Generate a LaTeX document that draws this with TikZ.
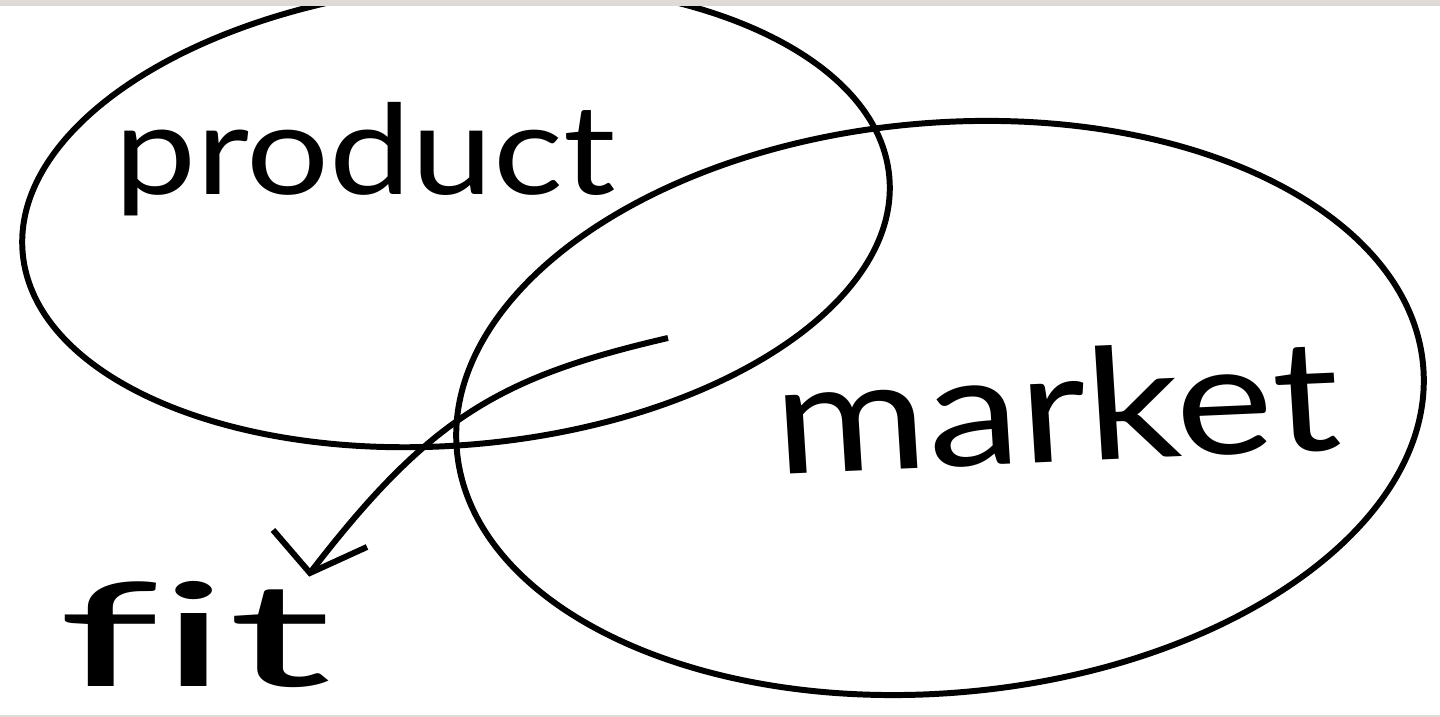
\documentclass[tikz,border=0pt]{standalone}
\usepackage{fontspec}
\newfontfamily\handfont[Ligatures=NoCommon]{Lato}
\usetikzlibrary{arrows.meta,positioning}
\definecolor{framegray}{RGB}{222,219,215}
\tikzset{
  line cap=round,
  line join=round,
  venn/.style={line width=1.7pt},
  fitarrow/.style={line width=1.7pt},
  word/.style={inner sep=0pt, anchor=base, transform shape, font=\handfont}
}

\begin{document}
\begin{tikzpicture}
	\useasboundingbox (0,0) rectangle (14.4,7.17);
	\begin{scope}
	\clip (0,0) rectangle (14.4,7.17);

	% the two sets
	\draw[venn] (4.56,5.02) ellipse[x radius=4.35, y radius=2.30, rotate=5];
	\draw[venn] (9.40,3.09) ellipse[x radius=4.85, y radius=2.85, rotate=5];

	% labels
	\node[word, xscale=1.17, font=\handfont\fontsize{35.6}{40}\selectfont] (product) at (3.65,5.22) {product};
	\node[word, xscale=1.2, rotate=3, font=\handfont\fontsize{44}{50}\selectfont] (market) at (10.60,2.55) {market};
	\node[word, xscale=2.0, font=\handfont\fontsize{41}{46}\selectfont] (fit) at (1.95,0.30) {fit};

	% arrow from the overlap down to fit
	\coordinate (start) at (6.68,3.79);
	\coordinate (tip) at (3.10,1.44);
	\draw[fitarrow] (start) .. controls (5.0,3.4) and (4.3,3.0) .. (tip);
	\draw[fitarrow] (tip) ++(-0.37,0.43) -- (tip) -- ++(0.57,0.26);
	\end{scope}

	% grey strips top and bottom
	\fill[framegray] (0,7.11) rectangle (14.4,7.17);
	\fill[framegray] (0,0) rectangle (14.4,0.02);
\end{tikzpicture}
\end{document}
